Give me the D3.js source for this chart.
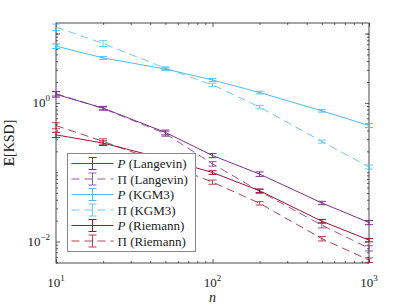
<!DOCTYPE html>
<html>
<head>
<meta charset="utf-8">
<script src="https://cdn.jsdelivr.net/npm/d3@7"></script>
<style>
  body { margin: 0; background: #fff; }
  text { font-family: "Liberation Serif", "DejaVu Serif", serif; }
</style>
</head>
<body>
<div id="chart"></div>
<script>
// sample sizes
var nVals = [10, 20, 50, 100, 200, 500, 1000];

// E[KSD] per series, with error bar half-heights
var langP      = [1.33, 0.84, 0.375, 0.174, 0.094, 0.036, 0.0188];
var langPErr   = [0.12, 0.05, 0.03, 0.012, 0.007, 0.002, 0.0013];
var langPi     = [1.36, 0.83, 0.36, 0.132, 0.053, 0.0172, 0.0080];
var langPiErr  = [0.1, 0.04, 0.03, 0.01, 0.004, 0.0015, 0.0007];
var kgmP       = [6.6, 4.45, 3.08, 2.14, 1.41, 0.767, 0.471];
var kgmPErr    = [0.5, 0.2, 0.12, 0.1, 0.06, 0.03, 0.03];
var kgmPi      = [12.4, 7.2, 3.16, 1.82, 0.87, 0.277, 0.119];
var kgmPiErr   = [1.3, 0.7, 0.15, 0.1, 0.05, 0.014, 0.008];
var riemP      = [0.346, 0.263, 0.155, 0.099, 0.054, 0.0196, 0.0105];
var riemPErr   = [0.03, 0.02, 0.01, 0.006, 0.003, 0.0012, 0.0006];
var riemPi     = [0.47, 0.278, 0.132, 0.072, 0.0356, 0.011, 0.0054];
var riemPiErr  = [0.047, 0.025, 0.01, 0.005, 0.002, 0.0008, 0.0004];

var xTicks = [10, 100, 1000];
var yTicks = [0.01, 1];

var series = [
  {sym: "P", name: "(Langevin)", vals: langP, err: langPErr, color: "#7E2F8E", dash: false},
  {sym: "Π", name: "(Langevin)", vals: langPi, err: langPiErr, color: "#7E2F8E", dash: true},
  {sym: "P", name: "(KGM3)", vals: kgmP, err: kgmPErr, color: "#4DBEEE", dash: false},
  {sym: "Π", name: "(KGM3)", vals: kgmPi, err: kgmPiErr, color: "#4DBEEE", dash: true},
  {sym: "P", name: "(Riemann)", vals: riemP, err: riemPErr, color: "#A2142F", dash: false},
  {sym: "Π", name: "(Riemann)", vals: riemPi, err: riemPiErr, color: "#A2142F", dash: true}
];

var margin = {top: 23, right: 38, bottom: 42, left: 56},
    width = 407 - margin.left - margin.right,
    height = 305 - margin.top - margin.bottom;

var svg = d3.select("#chart").append("svg")
    .attr("width", 407)
    .attr("height", 305)
  .append("g")
    .attr("transform", "translate(" + margin.left + "," + margin.top + ")");

var x = d3.scaleLog().domain([10, 1000]).range([0, width]);
var y = d3.scaleLog().domain([0.0049, 14.2]).range([height, 0]);

var axisColor = "#333";

// minor ticks
var xMinor = [], yMinor = [];
[10, 100].forEach(function(b) { for (var k = 2; k <= 9; k++) xMinor.push(b * k); });
[0.001, 0.01, 0.1, 1, 10].forEach(function(b) {
  for (var k = 1; k <= 9; k++) {
    var v = b * k;
    if (v >= y.domain()[0] && v <= y.domain()[1] && yTicks.indexOf(v) < 0) yMinor.push(v);
  }
});

function styleAxis(g) {
  g.select(".domain").remove();
  g.selectAll("line").attr("stroke", axisColor).attr("stroke-width", 0.8);
  g.selectAll("text").remove();
}

svg.append("g").attr("transform", "translate(0," + height + ")")
  .call(d3.axisBottom(x).tickValues(xTicks).tickSize(-4)).call(styleAxis);
svg.append("g").attr("transform", "translate(0," + height + ")")
  .call(d3.axisBottom(x).tickValues(xMinor).tickSize(-2)).call(styleAxis);
svg.append("g")
  .call(d3.axisTop(x).tickValues(xTicks).tickSize(-4)).call(styleAxis);
svg.append("g")
  .call(d3.axisTop(x).tickValues(xMinor).tickSize(-2)).call(styleAxis);
svg.append("g")
  .call(d3.axisLeft(y).tickValues(yTicks.concat([10])).tickSize(-4)).call(styleAxis);
svg.append("g")
  .call(d3.axisLeft(y).tickValues(yMinor).tickSize(-2)).call(styleAxis);
svg.append("g").attr("transform", "translate(" + width + ",0)")
  .call(d3.axisRight(y).tickValues(yTicks.concat([10])).tickSize(-4)).call(styleAxis);
svg.append("g").attr("transform", "translate(" + width + ",0)")
  .call(d3.axisRight(y).tickValues(yMinor).tickSize(-2)).call(styleAxis);

// box
svg.append("rect")
  .attr("width", width).attr("height", height)
  .attr("fill", "none").attr("stroke", axisColor).attr("stroke-width", 0.9);

// tick labels with superscripts
xTicks.forEach(function(t) {
  var tx = svg.append("text")
    .attr("x", x(t)).attr("y", height + 24)
    .attr("text-anchor", "middle")
    .attr("font-size", 13).attr("fill", "#222");
  tx.append("tspan").text("10");
  tx.append("tspan").attr("dy", -6).attr("font-size", 9).text(Math.round(Math.log10(t)));
});
yTicks.forEach(function(t) {
  var ty = svg.append("text")
    .attr("x", -6).attr("y", y(t) + 4)
    .attr("text-anchor", "end")
    .attr("font-size", 13).attr("fill", "#222");
  ty.append("tspan").text("10");
  ty.append("tspan").attr("dy", -6).attr("font-size", 9).text(Math.round(Math.log10(t)) < 0 ? "\u2212" + Math.abs(Math.round(Math.log10(t))) : Math.round(Math.log10(t)));
});

// axis titles
svg.append("text")
  .attr("x", width / 2).attr("y", height + 39)
  .attr("text-anchor", "middle")
  .attr("font-size", 14).attr("font-style", "italic").attr("fill", "#222")
  .text("n");

var yl = svg.append("text")
  .attr("transform", "translate(" + (-42) + "," + (height / 2) + ") rotate(-90)")
  .attr("text-anchor", "middle")
  .attr("font-size", 14).attr("fill", "#222");
yl.append("tspan").attr("font-weight", "bold").text("E");
yl.append("tspan").text("[KSD]");

// series
var line = d3.line()
  .x(function(d) { return x(d.n); })
  .y(function(d) { return y(d.v); });

series.forEach(function(s) {
  var pts = nVals.map(function(n, i) { return {n: n, v: s.vals[i], e: s.err[i]}; });
  var g = svg.append("g").attr("opacity", s.dash ? 0.8 : 1);
  g.append("path")
    .datum(pts)
    .attr("d", line)
    .attr("fill", "none")
    .attr("stroke", s.color)
    .attr("stroke-width", 1)
    .attr("stroke-dasharray", s.dash ? "8,5" : null);
  var eb = g.selectAll(".eb").data(pts).enter().append("g");
  eb.append("line")
    .attr("x1", function(d) { return x(d.n); })
    .attr("x2", function(d) { return x(d.n); })
    .attr("y1", function(d) { return y(d.v + d.e); })
    .attr("y2", function(d) { return y(Math.max(d.v - d.e, 1e-6)); })
    .attr("stroke", s.color).attr("stroke-width", 1);
  [1, -1].forEach(function(sg) {
    eb.append("line")
      .attr("x1", function(d) { return x(d.n) - 4; })
      .attr("x2", function(d) { return x(d.n) + 4; })
      .attr("y1", function(d) { return y(d.v + sg * d.e); })
      .attr("y2", function(d) { return y(d.v + sg * d.e); })
      .attr("stroke", s.color).attr("stroke-width", 1);
  });
});

// legend
var lg = svg.append("g").attr("transform", "translate(" + (67.5 - margin.left) + "," + (153.5 - margin.top) + ")");
lg.append("rect")
  .attr("width", 128).attr("height", 98)
  .attr("fill", "#fff").attr("stroke", "#888").attr("stroke-width", 1);
series.forEach(function(s, i) {
  var cy = 10 + i * 15.5;
  var row = lg.append("g").attr("opacity", s.dash ? 0.8 : 1);
  row.append("line")
    .attr("x1", 4).attr("x2", 46).attr("y1", cy).attr("y2", cy)
    .attr("stroke", s.color).attr("stroke-width", 1)
    .attr("stroke-dasharray", s.dash ? "8,5" : null);
  row.append("line")
    .attr("x1", 25).attr("x2", 25).attr("y1", cy - 6).attr("y2", cy + 6)
    .attr("stroke", s.color).attr("stroke-width", 1);
  [-6, 6].forEach(function(o) {
    row.append("line")
      .attr("x1", 21).attr("x2", 29).attr("y1", cy + o).attr("y2", cy + o)
      .attr("stroke", s.color).attr("stroke-width", 1);
  });
  var t = lg.append("text")
    .attr("x", 50).attr("y", cy + 4.5)
    .attr("font-size", 13).attr("fill", "#222");
  t.append("tspan").attr("font-style", s.sym === "P" ? "italic" : "normal").text(s.sym);
  t.append("tspan").text(" " + s.name);
});
</script>
</body>
</html>
